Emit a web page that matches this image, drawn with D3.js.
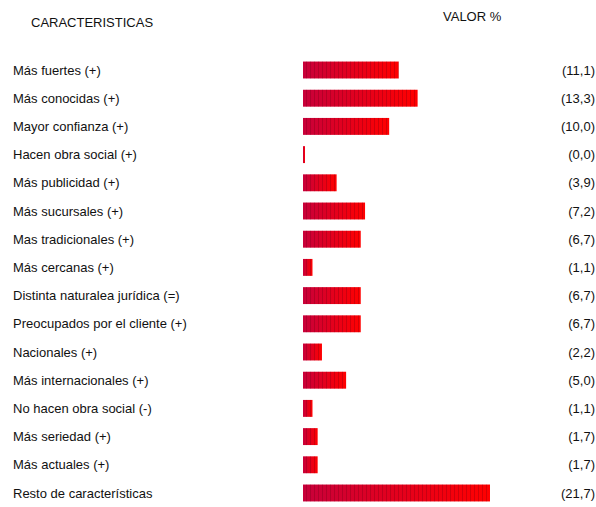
<!DOCTYPE html>
<html>
<head>
<meta charset="utf-8">
<script src="https://cdn.jsdelivr.net/npm/d3@7"></script>
<style>
  body { margin: 0; background: #fff; }
  text { font-family: "Liberation Sans", Arial, sans-serif; fill: #111; }
</style>
</head>
<body>
<div id="chart"></div>
<script>
// características y valores (%)
var categories = [
  "Más fuertes (+)", "Más conocidas (+)", "Mayor confianza (+)", "Hacen obra social (+)",
  "Más publicidad (+)", "Más sucursales (+)", "Mas tradicionales (+)", "Más cercanas (+)",
  "Distinta naturalea jurídica (=)", "Preocupados por el cliente (+)", "Nacionales (+)",
  "Más internacionales (+)", "No hacen obra social (-)", "Más seriedad (+)",
  "Más actuales (+)", "Resto de características"
];
var values = [11.1, 13.3, 10.0, 0.0, 3.9, 7.2, 6.7, 1.1, 6.7, 6.7, 2.2, 5.0, 1.1, 1.7, 1.7, 21.7];
var valueLabels = ["(11,1)", "(13,3)", "(10,0)", "(0,0)", "(3,9)", "(7,2)", "(6,7)", "(1,1)",
  "(6,7)", "(6,7)", "(2,2)", "(5,0)", "(1,1)", "(1,7)", "(1,7)", "(21,7)"];

var width = 596, height = 507;

var svg = d3.select('#chart').append('svg')
    .attr('width', width)
    .attr('height', height);

var defs = svg.append('defs');
var grad = defs.append('linearGradient').attr('id', 'barGrad')
    .attr('x1', '0%').attr('x2', '100%').attr('y1', '0%').attr('y2', '0%');
grad.append('stop').attr('offset', '0%').attr('stop-color', '#c8003a');
grad.append('stop').attr('offset', '100%').attr('stop-color', '#ff0000');

var stripes = defs.append('pattern').attr('id', 'stripes')
    .attr('patternUnits', 'userSpaceOnUse')
    .attr('width', 4).attr('height', 4);
stripes.append('rect').attr('x', 2).attr('y', 0).attr('width', 1).attr('height', 4)
    .attr('fill', '#5a0010').attr('opacity', 0.25);

var x = d3.scaleLinear().domain([0, 21.7]).range([303, 490]);
var y = d3.scaleBand().domain(categories).range([54.5, 508.5]).paddingInner(0.4).paddingOuter(0.25);

// cabeceras
svg.append('text').attr('x', 31).attr('y', 27).attr('font-size', 13).text('CARACTERISTICAS');
svg.append('text').attr('x', 443).attr('y', 21).attr('font-size', 13).text('VALOR %');

var rows = svg.append('g').selectAll('g.row')
    .data(categories)
    .enter().append('g')
    .attr('class', 'row');

rows.append('text')
    .attr('x', 13)
    .attr('y', d => y(d) + y.bandwidth() / 2)
    .attr('dy', '0.35em')
    .attr('font-size', 13)
    .text(d => d);

rows.append('rect')
    .attr('x', x(0))
    .attr('y', d => y(d))
    .attr('width', (d, i) => Math.max(2, x(values[i]) - x(0)))
    .attr('height', y.bandwidth())
    .attr('fill', 'url(#barGrad)');

rows.append('rect')
    .attr('x', x(0))
    .attr('y', d => y(d))
    .attr('width', (d, i) => values[i] > 0 ? x(values[i]) - x(0) : 0)
    .attr('height', y.bandwidth())
    .attr('fill', 'url(#stripes)');

rows.append('text')
    .attr('x', 595)
    .attr('y', d => y(d) + y.bandwidth() / 2)
    .attr('dy', '0.35em')
    .attr('text-anchor', 'end')
    .attr('font-size', 13)
    .text((d, i) => valueLabels[i]);
</script>
</body>
</html>
